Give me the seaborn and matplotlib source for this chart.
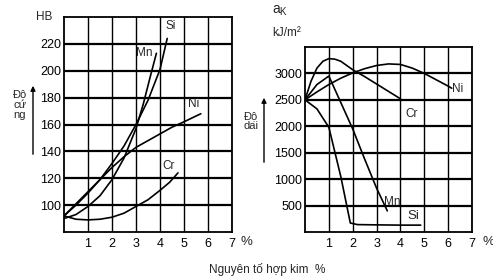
import matplotlib
matplotlib.use("Agg")
import matplotlib.pyplot as plt
import pandas as pd
import seaborn as sns

# --- left panel: hardness HB vs alloying element %
hb_ticks = [100, 120, 140, 160, 180, 200, 220]
hb_si_x = [0, 0.5, 1, 1.5, 2, 2.5, 3, 3.5, 4, 4.3]
hb_si_y = [92, 100, 109, 119, 131, 144, 160, 178, 201, 224]
hb_mn_x = [0, 0.5, 1, 1.5, 2, 2.5, 3, 3.3, 3.6, 3.85]
hb_mn_y = [90, 93, 99, 107, 119, 135, 157, 175, 196, 213]
hb_ni_x = [0, 0.5, 1, 1.5, 2, 2.5, 3, 3.5, 4, 4.5, 5, 5.7]
hb_ni_y = [92, 101, 110, 119, 128, 136, 143, 148, 153, 158, 162, 168]
hb_cr_x = [0, 0.5, 1, 1.5, 2, 2.5, 3, 3.5, 4, 4.4, 4.75]
hb_cr_y = [92, 89.5, 89, 89.5, 91, 94, 99, 104, 111, 117, 124]

# --- right panel: impact toughness aK (kJ/m2) vs alloying element %
ak_ticks = [500, 1000, 1500, 2000, 2500, 3000]
ak_ni_x = [0, 0.5, 1, 1.5, 2, 2.5, 3, 3.5, 4, 4.5, 5, 5.5, 6, 6.15]
ak_ni_y = [2500, 2650, 2790, 2910, 3010, 3090, 3150, 3180, 3170, 3100, 3000, 2880, 2760, 2720]
ak_cr_x = [0, 0.25, 0.5, 0.75, 1, 1.25, 1.5, 2, 2.5, 3, 3.5, 4]
ak_cr_y = [2500, 2850, 3100, 3230, 3280, 3270, 3230, 3070, 2940, 2800, 2660, 2520]
ak_mn_x = [0, 0.5, 1, 1.5, 2, 2.5, 3, 3.45]
ak_mn_y = [2500, 2790, 2950, 2450, 1950, 1380, 830, 400]
ak_si_x = [0, 0.5, 1, 1.5, 1.9, 2.2, 3, 4, 4.85]
ak_si_y = [2500, 2330, 1980, 1050, 170, 140, 135, 130, 130]

pct_ticks = [1, 2, 3, 4, 5, 6, 7]

W, H = 493, 278


def px(x, y):
    # pixel position (from top-left) to figure fraction
    return x / W, 1 - y / H


def draw_curves(ax, curves):
    rows = []
    for name, xs, ys in curves:
        for x, y in zip(xs, ys):
            rows.append({"element": name, "x": x, "y": y})
    df = pd.DataFrame(rows)
    sns.lineplot(data=df, x="x", y="y", units="element", estimator=None,
                 sort=False, color="black", lw=1.2, ax=ax, legend=False)


def style_axes(ax, ylim, yticks):
    ax.set_xlim(0, 7)
    ax.set_ylim(*ylim)
    ax.set_xticks(pct_ticks)
    ax.set_xticklabels([str(t) for t in pct_ticks])
    ax.set_yticks(yticks)
    ax.set_yticklabels([str(t) for t in yticks])
    ax.set_xlabel("")
    ax.set_ylabel("")
    ax.yaxis.grid(True, color="black", lw=1.6)
    ax.xaxis.grid(True, color="black", lw=1.0)
    ax.tick_params(length=0, labelsize=9, colors="black")
    ax.tick_params(axis="x", pad=4)
    ax.tick_params(axis="y", pad=2)
    for s in ax.spines.values():
        s.set_color("black")
        s.set_linewidth(1.3)


def up_arrow(ax, x, y_top, y_bottom):
    ax.annotate("", xy=px(x, y_top), xytext=px(x, y_bottom),
                xycoords="figure fraction", textcoords="figure fraction",
                annotation_clip=False,
                arrowprops=dict(arrowstyle="-|>", color="black", lw=1,
                                mutation_scale=7))


sns.set_style("white")
plt.rcParams["font.family"] = ["Liberation Sans", "DejaVu Sans"]

fig = plt.figure(figsize=(W / 100, H / 100), dpi=100)
ax1 = fig.add_axes([64 / W, 46 / H, 168 / W, 215 / H])
ax2 = fig.add_axes([305 / W, 46 / H, 167 / W, 185 / H])

draw_curves(ax1, [("Si", hb_si_x, hb_si_y), ("Mn", hb_mn_x, hb_mn_y),
                  ("Ni", hb_ni_x, hb_ni_y), ("Cr", hb_cr_x, hb_cr_y)])
style_axes(ax1, (80, 240), hb_ticks)

draw_curves(ax2, [("Ni", ak_ni_x, ak_ni_y), ("Cr", ak_cr_x, ak_cr_y),
                  ("Mn", ak_mn_x, ak_mn_y), ("Si", ak_si_x, ak_si_y)])
style_axes(ax2, (0, 3500), ak_ticks)

# curve labels
lbl = dict(fontsize=8.5, ha="center", va="center")
ax1.text(4.45, 233, "Si", **lbl)
ax1.text(3.35, 213, "Mn", **lbl)
ax1.text(5.4, 175, "Ni", **lbl)
ax1.text(4.35, 129, "Cr", **lbl)
ax2.text(6.4, 2700, "Ni", **lbl)
ax2.text(4.45, 2230, "Cr", **lbl)
ax2.text(3.65, 560, "Mn", **lbl)
ax2.text(4.55, 300, "Si", fontsize=9.5, ha="center", va="center")

# axis captions
fig.text(*px(44, 17), "HB", fontsize=8.5, ha="center", va="center")
fig.text(*px(20, 105), "Độ\ncứ\nng", fontsize=8, ha="center", va="center",
         linespacing=1.05)
up_arrow(ax1, 33, 83, 157)
fig.text(*px(246, 242), "%", fontsize=9.5, ha="center", va="center")

fig.text(*px(280, 11), r"$\mathregular{a_K}$", fontsize=10, ha="center",
         va="center")
fig.text(*px(287, 33), "kJ/m²", fontsize=8.5, ha="center", va="center")
fig.text(*px(251, 121), "Độ\ndai", fontsize=8, ha="center", va="center",
         linespacing=1.05)
up_arrow(ax2, 264, 95, 165)
fig.text(*px(488, 242), "%", fontsize=9.5, ha="center", va="center")

fig.text(*px(267, 270), "Nguyên tố hợp kim  %", fontsize=8.5, ha="center",
         va="center")

fig.savefig("out.png", dpi=100)
